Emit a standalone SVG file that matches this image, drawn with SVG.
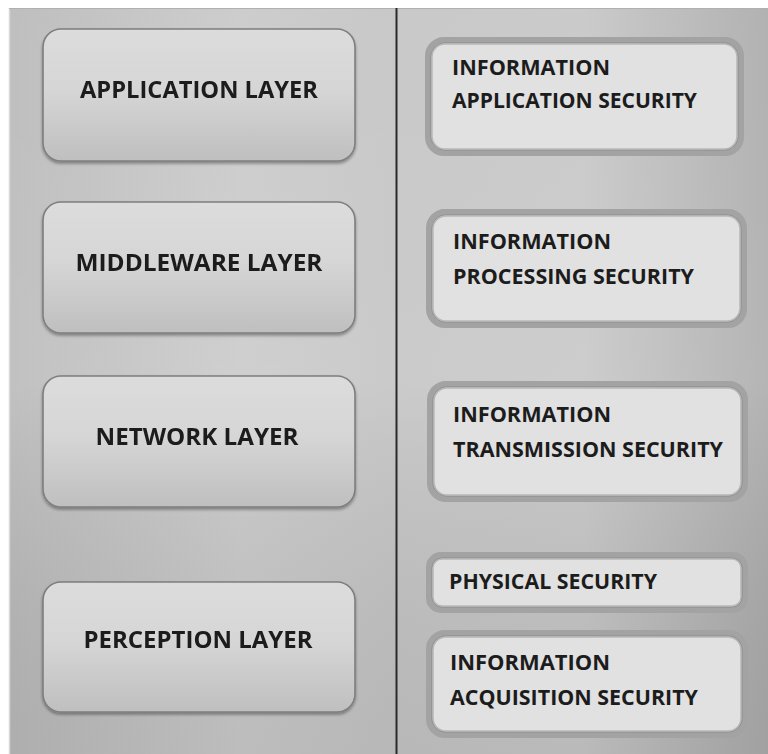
<svg xmlns="http://www.w3.org/2000/svg" width="768" height="754" viewBox="0 0 768 754">
  <defs>
    <linearGradient id="bgLeft" x1="0" y1="0" x2="1" y2="0">
      <stop offset="0" stop-color="#b9b9b9"/>
      <stop offset="0.6" stop-color="#c9c9c9"/>
      <stop offset="1" stop-color="#c3c3c3"/>
    </linearGradient>
    <linearGradient id="bgRight" x1="0" y1="0" x2="1" y2="0">
      <stop offset="0" stop-color="#c4c4c4"/>
      <stop offset="0.5" stop-color="#c6c6c6"/>
      <stop offset="1" stop-color="#ababab"/>
    </linearGradient>
    <linearGradient id="vshade" x1="0" y1="0" x2="0" y2="1">
      <stop offset="0" stop-color="#ffffff" stop-opacity="0.08"/>
      <stop offset="0.5" stop-color="#ffffff" stop-opacity="0.12"/>
      <stop offset="1" stop-color="#000000" stop-opacity="0.06"/>
    </linearGradient>
    <linearGradient id="layerFill" x1="0" y1="0" x2="0" y2="1">
      <stop offset="0" stop-color="#dcdcdc"/>
      <stop offset="0.45" stop-color="#d6d6d6"/>
      <stop offset="1" stop-color="#bfbfbf"/>
    </linearGradient>
    <filter id="shadow" x="-10%" y="-10%" width="120%" height="130%">
      <feGaussianBlur in="SourceAlpha" stdDeviation="1.5"/>
      <feOffset dx="0" dy="2" result="b"/>
      <feComponentTransfer><feFuncA type="linear" slope="0.35"/></feComponentTransfer>
      <feMerge><feMergeNode/><feMergeNode in="SourceGraphic"/></feMerge>
    </filter>
    <filter id="soft" x="-5%" y="-5%" width="110%" height="110%">
      <feGaussianBlur stdDeviation="0.7"/>
    </filter>
  </defs>
  <style>
    .layer { fill: url(#layerFill); stroke: #7e7e7e; stroke-width: 1.6; }
    .ring { fill: none; stroke: #a3a3a3; stroke-width: 6; }
    .ringLine { fill: none; stroke: #8c8c8c; stroke-width: 1.1; }
    .sec { fill: #e1e1e1; stroke: #b8b8b8; stroke-width: 1.5; }
    .t { font-family: "Open Sans", "Liberation Sans", sans-serif; font-weight: bold; fill: #1c1c1c; }
    .big { font-size: 23.5px; }
    .small { font-size: 21px; }
  </style>

  <!-- background panels -->
  <rect x="0" y="0" width="768" height="754" fill="#ffffff"/>
  <rect x="9" y="8" width="387" height="746" fill="url(#bgLeft)"/>
  <rect x="397" y="8" width="371" height="746" fill="url(#bgRight)"/>
  <rect x="9" y="8" width="759" height="746" fill="url(#vshade)"/>
  <line x1="9.5" y1="8" x2="9.5" y2="754" stroke="#d8d8d8" stroke-width="1.5"/>
  <line x1="9" y1="8.5" x2="768" y2="8.5" stroke="#b0b0b0" stroke-width="1"/>

  <!-- divider between the two columns -->
  <g id="connectors">
    <line x1="396.5" y1="8" x2="396.5" y2="754" stroke="#2a2a2a" stroke-width="2"/>
  </g>

  <!-- architecture layers -->
  <g id="application-layer" filter="url(#shadow)">
    <rect class="layer" x="43" y="29" width="312" height="132" rx="18"/>
    <text class="t big" x="199" y="98" text-anchor="middle" textLength="238" lengthAdjust="spacingAndGlyphs">APPLICATION LAYER</text>
  </g>
  <g id="middleware-layer" filter="url(#shadow)">
    <rect class="layer" x="43" y="202" width="312" height="131" rx="18"/>
    <text class="t big" x="199" y="271" text-anchor="middle" textLength="247" lengthAdjust="spacingAndGlyphs">MIDDLEWARE LAYER</text>
  </g>
  <g id="network-layer" filter="url(#shadow)">
    <rect class="layer" x="43" y="376" width="312" height="131" rx="18"/>
    <text class="t big" x="197" y="445" text-anchor="middle" textLength="203" lengthAdjust="spacingAndGlyphs">NETWORK LAYER</text>
  </g>
  <g id="perception-layer" filter="url(#shadow)">
    <rect class="layer" x="43" y="582" width="312" height="130" rx="18"/>
    <text class="t big" x="198" y="648" text-anchor="middle" textLength="229" lengthAdjust="spacingAndGlyphs">PERCEPTION LAYER</text>
  </g>

  <!-- security aspects -->
  <g id="info-application-security">
    <rect class="ring" x="428" y="40" width="313" height="113" rx="16" filter="url(#soft)"/>
    <rect class="ringLine" x="431" y="43" width="307" height="107" rx="14"/>
    <rect class="sec" x="432" y="44" width="305" height="105" rx="13"/>
    <text class="t small" x="452" y="75" textLength="158" lengthAdjust="spacingAndGlyphs">INFORMATION</text>
    <text class="t small" x="452" y="108" textLength="245" lengthAdjust="spacingAndGlyphs">APPLICATION SECURITY</text>
  </g>
  <g id="info-processing-security">
    <rect class="ring" x="429" y="212" width="315" height="113" rx="16" filter="url(#soft)"/>
    <rect class="ringLine" x="432" y="215" width="309" height="107" rx="14"/>
    <rect class="sec" x="433" y="216" width="307" height="105" rx="13"/>
    <text class="t small" x="453" y="249" textLength="158" lengthAdjust="spacingAndGlyphs">INFORMATION</text>
    <text class="t small" x="453" y="284" textLength="241" lengthAdjust="spacingAndGlyphs">PROCESSING SECURITY</text>
  </g>
  <g id="info-transmission-security">
    <rect class="ring" x="430" y="384" width="315" height="115" rx="16" filter="url(#soft)"/>
    <rect class="ringLine" x="433" y="387" width="309" height="109" rx="14"/>
    <rect class="sec" x="434" y="388" width="307" height="107" rx="13"/>
    <text class="t small" x="453" y="422" textLength="158" lengthAdjust="spacingAndGlyphs">INFORMATION</text>
    <text class="t small" x="453" y="457" textLength="270" lengthAdjust="spacingAndGlyphs">TRANSMISSION SECURITY</text>
  </g>
  <g id="physical-security">
    <rect class="ring" x="429" y="555" width="316" height="55" rx="12" filter="url(#soft)"/>
    <rect class="ringLine" x="432" y="558" width="310" height="49" rx="10"/>
    <rect class="sec" x="433" y="559" width="308" height="47" rx="9"/>
    <text class="t small" x="449" y="589" textLength="208" lengthAdjust="spacingAndGlyphs">PHYSICAL SECURITY</text>
  </g>
  <g id="info-acquisition-security">
    <rect class="ring" x="429" y="633" width="316" height="102" rx="16" filter="url(#soft)"/>
    <rect class="ringLine" x="432" y="636" width="310" height="96" rx="14"/>
    <rect class="sec" x="433" y="637" width="308" height="94" rx="13"/>
    <text class="t small" x="450" y="670" textLength="160" lengthAdjust="spacingAndGlyphs">INFORMATION</text>
    <text class="t small" x="450" y="705" textLength="248" lengthAdjust="spacingAndGlyphs">ACQUISITION SECURITY</text>
  </g>
</svg>
